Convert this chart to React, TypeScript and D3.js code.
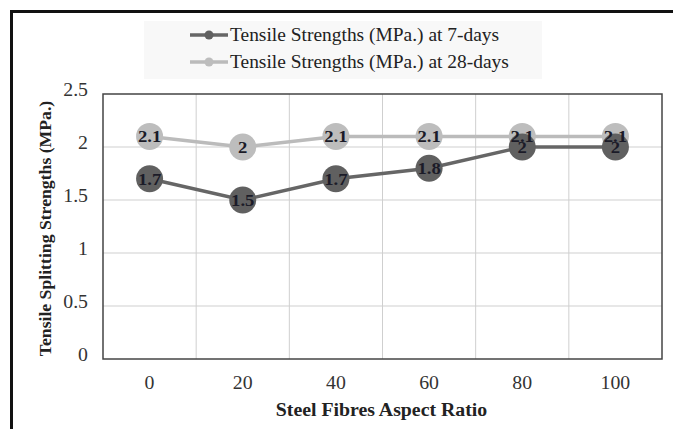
import React, { useEffect, useRef } from 'react';
import * as d3 from 'd3';

const categories: string[] = ['0', '20', '40', '60', '80', '100'];
const days7: number[] = [1.7, 1.5, 1.7, 1.8, 2, 2];
const days28: number[] = [2.1, 2, 2.1, 2.1, 2.1, 2.1];
const yTicks: number[] = [0, 0.5, 1, 1.5, 2, 2.5];
const seriesNames: string[] = [
  'Tensile Strengths (MPa.) at 7-days',
  'Tensile Strengths (MPa.) at 28-days',
];

// the reference's lettering is a little wider than the serif we have, so widen it
function stretch(sel: d3.Selection<SVGTextElement, any, any, any>, factor: number) {
  sel.each(function () {
    const len = this.getComputedTextLength();
    d3.select(this).attr('textLength', len * factor).attr('lengthAdjust', 'spacingAndGlyphs');
  });
}

const App: React.FC = () => {
  const ref = useRef<SVGSVGElement | null>(null);

  useEffect(() => {
    if (!ref.current) return;
    const W = 673;
    const H = 429;
    const margin = { top: 94, right: 11, bottom: 70, left: 103 };
    const width = W - margin.left - margin.right;
    const height = H - margin.top - margin.bottom;
    const font = '"Liberation Serif", "Times New Roman", serif';

    const svg = d3.select(ref.current);
    svg.selectAll('*').remove();
    svg.attr('width', W).attr('height', H);

    svg.append('rect').attr('width', W).attr('height', H).attr('fill', '#fff');

    // outer frame (top and left only)
    svg
      .append('path')
      .attr('d', `M11.5,${H} V11.5 H${W}`)
      .attr('fill', 'none')
      .attr('stroke', '#111')
      .attr('stroke-width', 3);

    const g = svg.append('g').attr('transform', `translate(${margin.left},${margin.top})`);

    const x = d3.scaleBand<string>().domain(categories).range([0, width]);
    const y = d3.scaleLinear().domain([0, 2.5]).range([height, 0]);

    // grid
    g.selectAll('.hgrid')
      .data(yTicks.slice(1, -1))
      .enter()
      .append('line')
      .attr('x1', 0)
      .attr('x2', width)
      .attr('y1', (d) => y(d))
      .attr('y2', (d) => y(d))
      .attr('stroke', '#cfcfcf')
      .attr('stroke-width', 1);

    g.selectAll('.vgrid')
      .data(categories.slice(1))
      .enter()
      .append('line')
      .attr('x1', (d) => x(d) || 0)
      .attr('x2', (d) => x(d) || 0)
      .attr('y1', 0)
      .attr('y2', height)
      .attr('stroke', '#cfcfcf')
      .attr('stroke-width', 1);

    g.append('rect')
      .attr('width', width)
      .attr('height', height)
      .attr('fill', 'none')
      .attr('stroke', '#444')
      .attr('stroke-width', 1.5);

    // y ticks
    const yt = g
      .selectAll('.ytick')
      .data(yTicks)
      .enter()
      .append('text')
      .attr('x', -15)
      .attr('y', (d) => y(d))
      .attr('dy', '0.1em')
      .attr('text-anchor', 'end')
      .attr('font-family', font)
      .attr('font-size', 18)
      .attr('fill', '#333')
      .text((d) => String(d));
    stretch(yt as any, 1.1);

    // x ticks
    const xt = g
      .selectAll('.xtick')
      .data(categories)
      .enter()
      .append('text')
      .attr('x', (d) => (x(d) || 0) + x.bandwidth() / 2)
      .attr('y', height + 30)
      .attr('text-anchor', 'middle')
      .attr('font-family', font)
      .attr('font-size', 18)
      .attr('fill', '#333')
      .text((d) => d);
    stretch(xt as any, 1.1);

    // axis titles
    const xTitle = svg
      .append('text')
      .attr('x', margin.left + width / 2 - 1)
      .attr('y', 416)
      .attr('text-anchor', 'middle')
      .attr('font-family', font)
      .attr('font-weight', 'bold')
      .attr('font-size', 18)
      .attr('fill', '#222')
      .text('Steel Fibres Aspect Ratio');
    stretch(xTitle as any, 1.1);

    const yTitle = svg
      .append('text')
      .attr('transform', `translate(51,${margin.top + height / 2 + 2}) rotate(-90)`)
      .attr('text-anchor', 'middle')
      .attr('font-family', font)
      .attr('font-weight', 'bold')
      .attr('font-size', 17)
      .attr('fill', '#222')
      .text('Tensile Splitting Strengths (MPa.)');
    stretch(yTitle as any, 1.04);

    const series = [
      { values: days28, line: '#bbbbbb', fill: '#bdbdbd' },
      { values: days7, line: '#666666', fill: '#606060' },
    ];

    const line = d3
      .line<number>()
      .x((_, i) => (x(categories[i]) || 0) + x.bandwidth() / 2)
      .y((d) => y(d));

    series.forEach((s) => {
      g.append('path')
        .datum(s.values)
        .attr('d', line)
        .attr('fill', 'none')
        .attr('stroke', s.line)
        .attr('stroke-width', 3.5);
    });

    series.forEach((s) => {
      g.selectAll(null)
        .data(s.values)
        .enter()
        .append('circle')
        .attr('cx', (_, i) => (x(categories[i]) || 0) + x.bandwidth() / 2)
        .attr('cy', (d) => y(d))
        .attr('r', 13.5)
        .attr('fill', s.fill);
    });

    series.forEach((s) => {
      const lbl = g
        .selectAll(null)
        .data(s.values)
        .enter()
        .append('text')
        .attr('x', (_, i) => (x(categories[i]) || 0) + x.bandwidth() / 2)
        .attr('y', (d) => y(d))
        .attr('dy', '0.35em')
        .attr('text-anchor', 'middle')
        .attr('font-family', font)
        .attr('font-weight', 'bold')
        .attr('font-size', 17)
        .attr('fill', '#1b1b28')
        .text((d) => String(d));
      stretch(lbl as any, 1.1);
    });

    // legend
    const legend = svg.append('g');
    legend
      .append('rect')
      .attr('x', 144)
      .attr('y', 21)
      .attr('width', 398)
      .attr('height', 58)
      .attr('fill', '#f8f8f8');
    [series[1], series[0]].forEach((s, i) => {
      const ly = 35 + i * 27;
      legend
        .append('line')
        .attr('x1', 190)
        .attr('x2', 228)
        .attr('y1', ly)
        .attr('y2', ly)
        .attr('stroke', s.line)
        .attr('stroke-width', 3.5);
      legend.append('circle').attr('cx', 209).attr('cy', ly).attr('r', 4.5).attr('fill', s.fill);
      const t = legend
        .append('text')
        .attr('x', 230)
        .attr('y', ly)
        .attr('dy', '0.33em')
        .attr('font-family', font)
        .attr('font-size', 18)
        .attr('fill', '#222')
        .text(seriesNames[i]);
      stretch(t as any, 1.08);
    });
  }, []);

  return <svg ref={ref} style={{ position: 'absolute', left: 0, top: 0 }}></svg>;
};

export default App;
